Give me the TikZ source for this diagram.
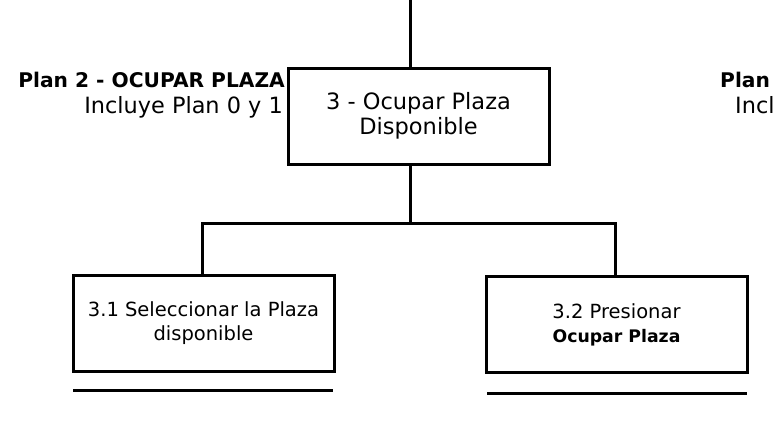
\documentclass[tikz,border=0pt]{standalone}
\usepackage{fontspec}
\setmainfont{DejaVu Sans}
\begin{document}
\begin{tikzpicture}[x=1pt,y=-1pt,
  task/.style={draw,line width=3pt,minimum width=261pt,minimum height=96pt,align=center,inner sep=0pt,font=\fontsize{19.5}{24}\selectfont},
  conn/.style={line width=3pt},
  lbl/.style={inner sep=0pt}]
\useasboundingbox (0,0) rectangle (776,440);
\fill[white] (0,0) rectangle (776,440);
\node[task,font=\fontsize{22.5}{25}\selectfont] (b0) at (418.5,116) {3 - Ocupar Plaza\\Disponible};
\node[task] (b1) at (203.5,323) {3.1 Seleccionar la Plaza\\disponible};
\node[task] (b2) at (616.5,324.5) {3.2 Presionar\\{\bfseries\fontsize{17.3}{24}\selectfont Ocupar Plaza}};
\coordinate (top) at (410,0);
\coordinate (jn) at (410,223);
\coordinate (jl) at (202.5,223);
\coordinate (jr) at (615.5,223);
\draw[conn] (top) -- (top |- b0.north);
\draw[conn] (b0.south -| jn) -- (jn);
\draw[conn,line cap=rect] (jl) -- (jr);
\draw[conn] (jl) -- (jl |- b1.north);
\draw[conn] (jr) -- (jr |- b2.north);
\coordinate (u1a) at (73,390);
\coordinate (u1b) at (333,390);
\coordinate (u2a) at (487,393);
\coordinate (u2b) at (747,393);
\draw[conn] (u1a) -- (u1b);
\draw[conn] (u2a) -- (u2b);
\node[lbl,anchor=base east,font=\bfseries\fontsize{20.2}{24}\selectfont] (p2) at (285,87) {Plan 2 - OCUPAR PLAZA};
\node[lbl,anchor=base east,font=\fontsize{22.4}{24}\selectfont] (p2b) at (283,113) {Incluye Plan 0 y 1};
\begin{scope}
\clip (0,0) rectangle (776,440);
\node[lbl,anchor=base west,font=\bfseries\fontsize{20.2}{24}\selectfont] (p3) at (720,87) {Plan 3};
\node[lbl,anchor=base west,font=\fontsize{22.4}{24}\selectfont] (p3b) at (735,113) {Incluye};
\end{scope}
\end{tikzpicture}
\end{document}
